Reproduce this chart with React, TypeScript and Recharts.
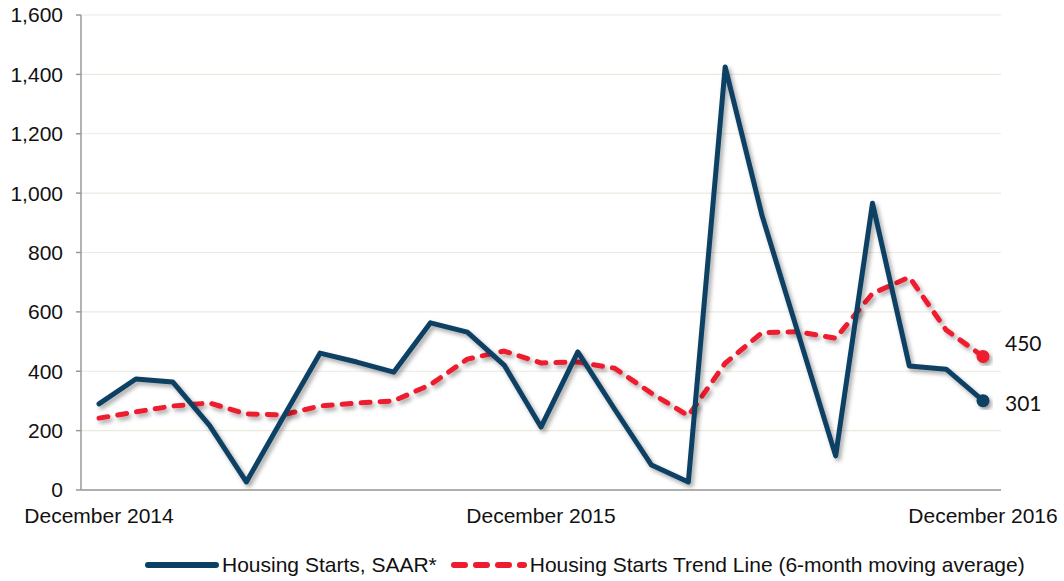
import React from "react";
import { LineChart, Line, XAxis, YAxis, CartesianGrid, Legend } from "recharts";

const months: string[] = [
  "December 2014", "January 2015", "February 2015", "March 2015", "April 2015", "May 2015",
  "June 2015", "July 2015", "August 2015", "September 2015", "October 2015", "November 2015",
  "December 2015", "January 2016", "February 2016", "March 2016", "April 2016", "May 2016",
  "June 2016", "July 2016", "August 2016", "September 2016", "October 2016", "November 2016",
  "December 2016",
];
const housingStarts: number[] = [
  290, 374, 364, 218, 27, 245, 461, 431, 397, 563, 532, 421, 212, 465, 272, 84, 27, 1425, 925, 520, 115, 966, 418, 407, 301,
];
const trendLine: number[] = [
  242, 263, 283, 293, 256, 253, 283, 293, 300, 355, 441, 468, 428, 431, 410, 326, 250, 427, 530, 533, 511, 662, 717, 539, 450,
];
const yTicks: number[] = [0, 200, 400, 600, 800, 1000, 1200, 1400, 1600];
const seriesNames = ["Housing Starts, SAAR*", "Housing Starts Trend Line (6-month moving average)"];

const BLUE = "#0a4163";
const RED = "#ed1c2e";
const FONT = "'Liberation Sans', Arial, sans-serif";

const data = months.map((m, i) => ({ month: m, starts: housingStarts[i], trend: trendLine[i] }));
const lastIndex = months.length - 1;

const makeDot = (color: string) => (props: any) => {
  const { cx, cy, index } = props;
  if (index !== lastIndex) return <g key={`d${index}`} />;
  return <circle key={`d${index}`} cx={cx} cy={cy} r={6.5} fill={color} filter="url(#shadow)" />;
};

const makeLabel = (dy: number) => (props: any) => {
  const { x, y, index, value } = props;
  if (index !== lastIndex) return <g key={`l${index}`} />;
  return (
    <text key={`l${index}`} x={x + 22} y={y + dy} fontSize={21} fontFamily="Lato, 'Open Sans', sans-serif" fill="#111" dominantBaseline="central">
      {value}
    </text>
  );
};

const renderLegend = () => (
  <div style={{ display: "flex", alignItems: "center", paddingLeft: 145, fontFamily: FONT, fontSize: 21, color: "#111", whiteSpace: "nowrap" }}>
    <svg width={74} height={10} style={{ display: "block" }}>
      <line x1={3} y1={5} x2={71} y2={5} stroke={BLUE} strokeWidth={6} strokeLinecap="round" />
    </svg>
    <span style={{ marginLeft: 3 }}>{seriesNames[0]}</span>
    <svg width={76} height={10} style={{ display: "block", marginLeft: 14 }}>
      <line x1={3} y1={5} x2={73} y2={5} stroke={RED} strokeWidth={6} strokeLinecap="round" strokeDasharray="11 11" />
    </svg>
    <span style={{ marginLeft: 3 }}>{seriesNames[1]}</span>
  </div>
);

export default function App() {
  return (
    <div style={{ position: "relative", width: 1064, height: 581, background: "#fff" }}>
      <style>{`body{margin:0;background:#fff}`}</style>
      <LineChart width={1064} height={581} data={data} margin={{ top: 15, right: 63, left: 0, bottom: 27 }}>
        <defs>
          <filter id="shadow" x="-20%" y="-20%" width="140%" height="140%">
            <feDropShadow dx="2.5" dy="3" stdDeviation="2" floodColor="#000" floodOpacity="0.35" />
          </filter>
        </defs>
        <CartesianGrid vertical={false} stroke="#ebe9de" strokeWidth={1.2} />
        <XAxis
          dataKey="month"
          interval={11}
          padding={{ left: 18, right: 18 }}
          axisLine={{ stroke: "#999", strokeWidth: 1.5 }}
          tickLine={false}
          tickSize={0}
          tickMargin={18}
          tick={{ fill: "#111", fontSize: 21, fontFamily: FONT }}
          height={40}
        />
        <YAxis
          domain={[0, 1600]}
          ticks={yTicks}
          width={81}
          axisLine={{ stroke: "#999", strokeWidth: 1.5 }}
          tickLine={{ stroke: "#999", strokeWidth: 1.5 }}
          tickSize={5}
          tickMargin={13}
          tick={{ fill: "#111", fontSize: 21, fontFamily: FONT }}
          tickFormatter={(v: number) => v.toLocaleString("en-US")}
        />
        <Legend
          content={renderLegend}
          wrapperStyle={{ left: 0, top: 553, width: 1064, bottom: "auto" }}
        />
        <Line
          type="linear"
          dataKey="trend"
          name={seriesNames[1]}
          stroke={RED}
          strokeWidth={5}
          strokeDasharray="9 10"
          strokeLinecap="round"
          strokeLinejoin="round"
          filter="url(#shadow)"
          dot={makeDot(RED)}
          activeDot={false}
          label={makeLabel(-14)}
          isAnimationActive={false}
        />
        <Line
          type="linear"
          dataKey="starts"
          name={seriesNames[0]}
          stroke={BLUE}
          strokeWidth={5}
          strokeLinecap="round"
          strokeLinejoin="round"
          filter="url(#shadow)"
          dot={makeDot(BLUE)}
          activeDot={false}
          label={makeLabel(2)}
          isAnimationActive={false}
        />
      </LineChart>
    </div>
  );
}
